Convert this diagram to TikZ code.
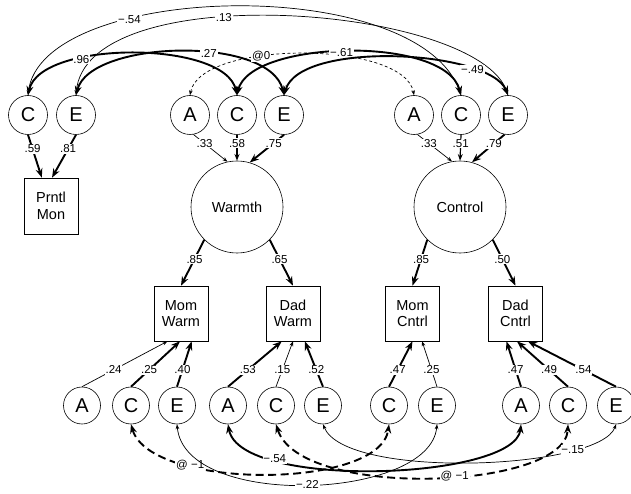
\documentclass[tikz,border=0pt]{standalone}
\usepackage{fontspec}
\setmainfont{Liberation Sans}
\usetikzlibrary{arrows.meta}
\tikzset{
	lat/.style={circle, draw, line width=0.6pt, minimum size=39pt, inner sep=0pt, font=\fontsize{20}{20}\selectfont},
	latb/.style={lat, minimum size=37pt},
	fac/.style={circle, draw, line width=0.6pt, minimum size=92pt, inner sep=0pt, font=\fontsize{14.5}{17}\selectfont},
	obs/.style={rectangle, draw, line width=0.6pt, minimum width=54pt, minimum height=55pt, inner sep=0pt, align=center, font=\fontsize{14.5}{16.5}\selectfont},
	lbl/.style={fill=white, inner sep=0.8pt, font=\fontsize{11.5}{12}\selectfont},
	thn/.style={line width=0.7pt},
	medln/.style={line width=1.2pt},
	thk/.style={line width=1.9pt},
	dshthin/.style={dash pattern=on 3pt off 2.5pt},
	dshthick/.style={dash pattern=on 8pt off 4.5pt},
	>={Stealth[length=2.5pt 3.5]}
}

\begin{document}
\begin{tikzpicture}[x=1pt, y=-1pt]
		%%%%% START %%%%%
		\useasboundingbox (0,0) rectangle (631,494);
		
		\node[lat] (pmC) at (28,115) {C};
		\node[lat] (pmE) at (76,115) {E};
		\node[lat] (wA) at (190,115) {A};
		\node[lat] (wC) at (237,115) {C};
		\node[lat] (wE) at (284,115) {E};
		\node[lat] (cA) at (414,115) {A};
		\node[lat] (cC) at (461,115) {C};
		\node[lat] (cE) at (508,115) {E};
		
		\node[obs, minimum height=56pt] (prntl) at (51,206) {Prntl\\Mon};
		\node[fac] (warmth) at (237,207) {Warmth};
		\node[fac] (control) at (460,207) {Control};
		
		\node[obs] (momW) at (181,313.5) {Mom\\Warm};
		\node[obs] (dadW) at (293,313.5) {Dad\\Warm};
		\node[obs] (momC) at (412.5,313.5) {Mom\\Cntrl};
		\node[obs] (dadC) at (515.5,313.5) {Dad\\Cntrl};
		
		\node[latb] (mwA) at (82,405.5) {A};
		\node[latb] (mwC) at (131,405.5) {C};
		\node[latb] (mwE) at (177,405.5) {E};
		\node[latb] (dwA) at (228,405.5) {A};
		\node[latb] (dwC) at (276,405.5) {C};
		\node[latb] (dwE) at (323,405.5) {E};
		\node[latb] (mcC) at (389,405.5) {C};
		\node[latb] (mcE) at (437,405.5) {E};
		\node[latb] (dcA) at (521,405.5) {A};
		\node[latb] (dcC) at (568,405.5) {C};
		\node[latb] (dcE) at (616,405.5) {E};
		
		% top correlations
		\draw[thn, <->] (pmC.north) .. controls (40,-18) and (420,-28) .. (cC.north) node[lbl, pos=0.32] {−.54};
		\draw[thn, <->] (pmE.north) .. controls (85,-25) and (480,5) .. (cE.north) node[lbl, pos=0.4] {.13};
		\draw[thk, <->] (pmC.north) .. controls (40,40) and (225,40) .. (wC.north) node[lbl, pos=0.32] {.96};
		\draw[thk, <->] (pmE.north) .. controls (90,40) and (270,35) .. (wE.north) node[lbl, pos=0.6] {.27};
		\draw[thn, dshthin, <->] (wA.north) .. controls (200,40) and (404,40) .. (cA.north) node[lbl, pos=0.37] {@0};
		\draw[thk, <->] (wC.north) .. controls (250,40) and (445,35) .. (cC.north) node[lbl, pos=0.48] {−.61};
		\draw[thk, <->] (wE.north) .. controls (300,40) and (490,50) .. (cE.north) node[lbl, pos=0.77] {−.49};
		
		% loadings on the factors
		\draw[thk, ->] (pmC.south) -- (prntl.108) node[lbl, pos=0.33] {.59};
		\draw[thk, ->] (pmE.south) -- (prntl.88) node[lbl, pos=0.33] {.81};
		\draw[thn, ->] (wA.-80) -- (warmth.102) node[lbl, pos=0.33] {.33};
		\draw[medln, ->] (wC.south) -- (warmth.north) node[lbl, pos=0.33] {.58};
		\draw[thk, ->] (wE.south) -- (warmth.74) node[lbl, pos=0.3] {.75};
		\draw[thn, ->] (cA.-80) -- (control.100) node[lbl, pos=0.33] {.33};
		\draw[medln, ->] (cC.south) -- (control.north) node[lbl, pos=0.33] {.51};
		\draw[thk, ->] (cE.-100) -- (control.75) node[lbl, pos=0.33] {.79};
		
		\draw[thk, ->] (warmth.225) -- (momW.north) node[lbl, pos=0.42] {.85};
		\draw[thk, ->] (warmth.315) -- (dadW.north) node[lbl, pos=0.42] {.65};
		\draw[thk, ->] (control.225) -- (momC.north) node[lbl, pos=0.42] {.85};
		\draw[thk, ->] (control.315) -- (dadC.north) node[lbl, pos=0.42] {.50};
		
		% residual paths
		\draw[thn, ->] (mwA.north) -- (momW.244.7) node[lbl, pos=0.37] {.24};
		\draw[thk, ->] (mwC.north) -- (momW.268) node[lbl, pos=0.37] {.25};
		\draw[thk, ->] (mwE.north) -- (momW.291.8) node[lbl, pos=0.37] {.40};
		\draw[thk, ->] (dwA.north) -- (dadW.248.2) node[lbl, pos=0.37] {.53};
		\draw[thn, ->] (dwC.north) -- (dadW.270) node[lbl, pos=0.37] {.15};
		\draw[thk, ->] (dwE.north) -- (dadW.293.6) node[lbl, pos=0.37] {.52};
		\draw[thk, ->] (mcC.north) -- (momC.270) node[lbl, pos=0.37] {.47};
		\draw[thn, ->] (mcE.north) -- (momC.289) node[lbl, pos=0.37] {.25};
		\draw[thk, ->] (dcA.north) -- (dadC.252.8) node[lbl, pos=0.37] {.47};
		\draw[thk, ->] (dcC.north) -- (dadC.273) node[lbl, pos=0.37] {.49};
		\draw[thk, ->] (dcE.north) -- (dadC.294.4) node[lbl, pos=0.37] {.54};
		
		% bottom correlations
		\draw[thk, dshthick, <->] (mwC.south) .. controls (150,490) and (380,490) .. (mcC.south) node[lbl, pos=0.29] {@ −1};
		\draw[thk, <->] (dwA.south) .. controls (240,490) and (515,480) .. (dcA.south) node[lbl, pos=0.24] {−.54};
		\draw[thn, <->] (mwE.south) .. controls (185,510) and (430,500) .. (mcE.south) node[lbl, pos=0.5] {−.22};
		\draw[thk, dshthick, <->] (dwC.south) .. controls (300,500) and (565,490) .. (dcC.south) node[lbl, pos=0.56] {@ −1};
		\draw[thn, <->] (dwE.south) .. controls (345,480) and (600,470) .. (dcE.south) node[lbl, pos=0.77] {−.15};
		%%%%% END %%%%%
	\end{tikzpicture}
\end{document}
